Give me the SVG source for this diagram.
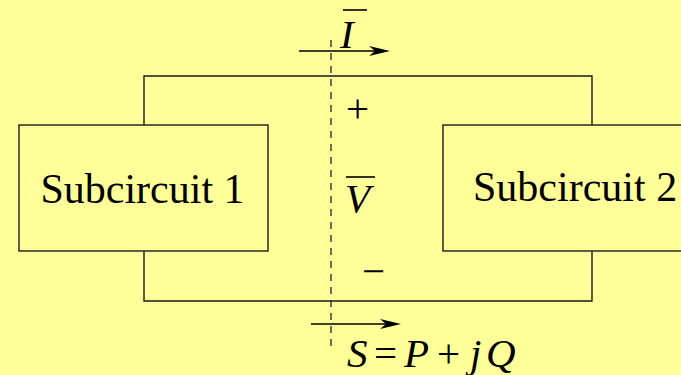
<svg xmlns="http://www.w3.org/2000/svg" width="681" height="375" viewBox="0 0 681 375">
<style>
.w{fill:none;stroke:#1a1a1a;stroke-width:1.4}
.box{fill:#ffff99;stroke:#1a1a1a;stroke-width:1.4}
.t{font-size:42px;fill:#000}
.m{font-size:41px;fill:#000}
.i{font-style:italic}
.ah{fill:#000;stroke:none}
</style>
<rect width="681" height="375" fill="#ffff99"/>
<g id="connectors">
<path class="w" d="M144 125 V76 H592 V125"/>
<path class="w" d="M144 251 V301 H592 V251"/>
<line x1="331" y1="40" x2="331" y2="352" stroke="#222" stroke-width="1.3" stroke-dasharray="7 6"/>
<line x1="299" y1="51" x2="382" y2="51" stroke="#000" stroke-width="1.3"/>
<path class="ah" d="M390 51 L369 46 L375 51 L369 56 Z"/>
<line x1="311" y1="324" x2="393" y2="324" stroke="#000" stroke-width="1.3"/>
<path class="ah" d="M401 324 L380 319 L386 324 L380 329 Z"/>
</g>
<g font-family="Liberation Serif, Tinos, Times New Roman, DejaVu Serif, serif">
<g id="subcircuit1">
<rect class="box" x="19" y="125" width="249" height="126"/>
<text class="t" x="142.5" y="203" text-anchor="middle">Subcircuit 1</text>
</g>
<g id="subcircuit2">
<rect class="box" x="443" y="125" width="260" height="126"/>
<text class="t" x="473" y="201">Subcircuit 2</text>
</g>
<g id="labels">
<text class="m i" x="340" y="48">I</text>
<line x1="343" y1="10" x2="367" y2="10" stroke="#000" stroke-width="1.6"/>
<text class="m" x="346" y="122">+</text>
<text class="m i" x="345" y="212">V</text>
<line x1="346" y1="177" x2="375" y2="177" stroke="#000" stroke-width="1.6"/>
<text class="m" x="362" y="285">−</text>
<text class="m" y="367"><tspan class="i" x="347">S</tspan><tspan x="374">=</tspan><tspan class="i" x="404">P</tspan><tspan x="437">+</tspan><tspan class="i" x="470">j</tspan><tspan class="i" x="486">Q</tspan></text>
</g>
</g>
</svg>
